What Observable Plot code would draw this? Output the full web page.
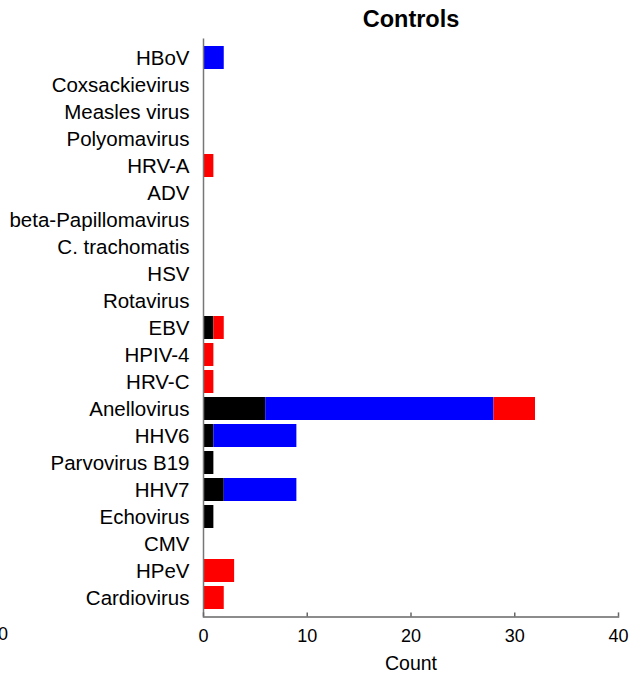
<!DOCTYPE html>
<html>
<head>
<meta charset="utf-8">
<script src="https://cdn.jsdelivr.net/npm/d3@7"></script>
<script src="https://cdn.jsdelivr.net/npm/@observablehq/plot@0.6"></script>
<style>
  html, body { margin: 0; padding: 0; background: #fff; }
  #wrap { position: relative; width: 632px; height: 674px; overflow: hidden; font-family: "Liberation Sans", Arial, sans-serif; }
  #stray { position: absolute; left: -12px; top: 622px; font-size: 18px; line-height: 24px; color: #000; }
</style>
</head>
<body>
<div id="wrap"><span id="stray">40</span></div>
<script>
const categories = ["HBoV", "Coxsackievirus", "Measles virus", "Polyomavirus", "HRV-A", "ADV",
  "beta-Papillomavirus", "C. trachomatis", "HSV", "Rotavirus", "EBV", "HPIV-4", "HRV-C",
  "Anellovirus", "HHV6", "Parvovirus B19", "HHV7", "Echovirus", "CMV", "HPeV", "Cardiovirus"];
const seriesNames = ["black", "blue", "red"];
const blackValues = [0, 0, 0, 0, 0, 0, 0, 0, 0, 0, 1, 0, 0, 6, 1, 1, 2, 1, 0, 0, 0];
const blueValues  = [2, 0, 0, 0, 0, 0, 0, 0, 0, 0, 0, 0, 0, 22, 8, 0, 7, 0, 0, 0, 0];
const redValues   = [0, 0, 0, 0, 1, 0, 0, 0, 0, 0, 1, 1, 1, 4, 0, 0, 0, 0, 0, 3, 2];
const seriesColors = ["#000000", "#0433ff", "#ff2600"];
const xTicks = [0, 10, 20, 30, 40];
const title = "Controls";
const xLabel = "Count";

const valueArrays = [blackValues, blueValues, redValues];
const rows = [];
categories.forEach((c, i) => {
  seriesNames.forEach((s, j) => {
    rows.push({category: c, series: s, value: valueArrays[j][i]});
  });
});

const font = "Liberation Sans, Arial, sans-serif";
const chart = Plot.plot({
  width: 632,
  height: 674,
  marginTop: 38.6,
  marginBottom: 57.6,
  marginLeft: 203,
  marginRight: 14,
  style: {fontFamily: font, background: "transparent", overflow: "visible"},
  x: {domain: [0, 40], label: null},
  y: {domain: categories, padding: 0.16, label: null},
  color: {domain: seriesNames, range: seriesColors},
  marks: [
    Plot.barX(rows, Plot.stackX({
      y: "category", x: "value", fill: "series",
      order: seriesNames
    })),
    Plot.ruleX([0], {stroke: "#777", strokeWidth: 1.5}),
    Plot.frame({anchor: "bottom", stroke: "#666", strokeWidth: 1.5}),
    Plot.axisX({ticks: xTicks, tickSize: 4, dy: -4, text: null, stroke: "#666", strokeWidth: 1.5, label: null}),
    Plot.axisX({ticks: xTicks, tickSize: 0, tickPadding: 12.6, fontSize: 18, fill: "#000", label: null, tickFormat: d => String(d)}),
    Plot.axisY({tickSize: 0, tickPadding: 14, fontSize: 20.5, fill: "#000", label: null}),
    Plot.text([xLabel], {frameAnchor: "bottom", dy: 46.4, lineAnchor: "middle", fontSize: 19.5, fill: "#000"}),
    Plot.text([title], {frameAnchor: "top", dy: -19.3, lineAnchor: "middle", fontSize: 23.5, fontWeight: "bold", fill: "#000"})
  ]
});
document.getElementById("wrap").prepend(chart);
</script>
</body>
</html>
